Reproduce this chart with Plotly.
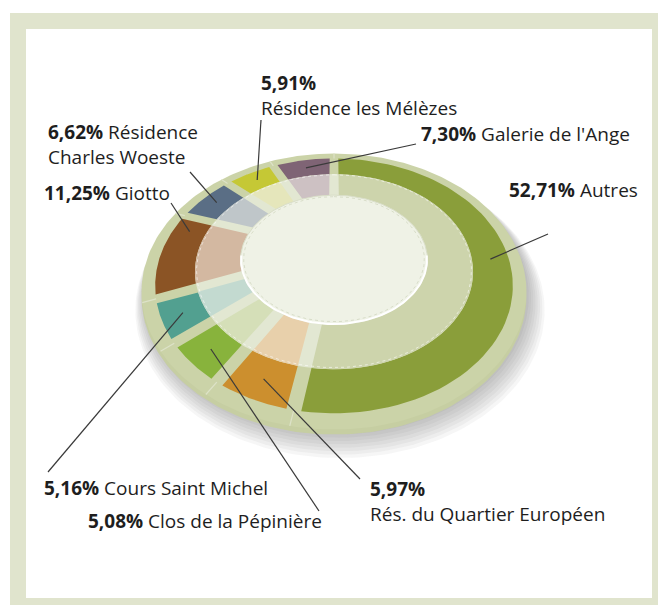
import numpy as np
import plotly.graph_objects as go

# ---------------- data ----------------
labels = ["Autres", "Rés. du Quartier Européen", "Clos de la Pépinière",
          "Cours Saint Michel", "Giotto", "Résidence Charles Woeste",
          "Résidence les Mélèzes", "Galerie de l'Ange"]
values = [52.71, 5.97, 5.08, 5.16, 11.25, 6.62, 5.91, 7.30]
colors_outer = ["#8a9e3a", "#cc8f2e", "#88b33c", "#52a090",
                "#8b5425", "#5a6e85", "#c5c835", "#7f6475"]
colors_inner = ["#cdd4ac", "#e8d0ab", "#d5dfb8", "#c3dad0",
                "#d3b8a1", "#bfc6c9", "#e5e6bb", "#cdc1c3"]

# label layout: text (x = left edge, y = vertical middle), leader end, leader position in slice
label_layout = [
    dict(text="{p} Autres", x=507, y=190, end=(548, 234), frac=0.5),
    dict(text="{p}<br>Rés. du Quartier Européen", x=368, y=501, end=(360, 479), frac=0.5),
    dict(text="{p} Clos de la Pépinière", x=86, y=521, end=(319, 511), frac=0.5),
    dict(text="{p} Cours Saint Michel", x=42, y=488, end=(48, 472), frac=0.5),
    dict(text="{p} Giotto", x=42, y=193, end=(171, 203), frac=0.8),
    dict(text="{p} Résidence<br>Charles Woeste", x=46, y=144, end=(190, 172), frac=0.5),
    dict(text="{p}<br>Résidence les Mélèzes", x=259, y=95, end=(261, 120), frac=0.5),
    dict(text="{p} Galerie de l'Ange", x=419, y=134, end=(416, 144), frac=0.5),
]

# ---------------- geometry (tilted disc in perspective) ----------------
CX, CY, T, K = 334.0, 250.0, 0.684, 0.00164
R_CENTER, R_INNER, R_OUTER, R_RIM = 92.4, 135.6, 171.6, 183.5
GAP = 11.0


def proj(r, th_deg):
    th = np.radians(th_deg)
    X = r * np.sin(th)
    Y = -r * np.cos(th)
    p = 1.0 / (1.0 - K * Y)
    return CX + X * p, CY + T * Y * p


def ellipse(r, n=240):
    a = np.linspace(0, 360, n)
    return proj(r, a)


def sector(r0, r1, a0, a1, gap, n=80):
    d1 = np.degrees(np.arcsin(gap / 2 / r1))
    d0 = np.degrees(np.arcsin(gap / 2 / r0))
    ao = np.linspace(a0 + d1, a1 - d1, n)
    ai = np.linspace(a1 - d0, a0 + d0, n)
    xo, yo = proj(r1, ao)
    xi, yi = proj(r0, ai)
    x = np.concatenate([xo, xi, xo[:1]])
    y = np.concatenate([yo, yi, yo[:1]])
    return x, y


total = sum(values)
angles = []
acc = 0.0
for v in values:
    a0 = acc / total * 360
    acc += v
    a1 = acc / total * 360
    angles.append((a0, a1))

fig = go.Figure()


def fill_trace(x, y, color, line_color=None, line_width=0):
    fig.add_trace(go.Scatter(
        x=x, y=y, mode="lines", fill="toself", fillcolor=color,
        line=dict(color=line_color or color, width=line_width),
        hoverinfo="skip", showlegend=False))


# shadow
for i in range(8):
    x, y = ellipse(R_RIM + 1.5 * i)
    fill_trace(x + 2.5 + 0.5 * i, y + 5 + 1.2 * i, "rgba(70,70,85,0.05)")

# rim (with a little thickness)
x, y = ellipse(R_RIM)
fill_trace(x, y + 5, "#c6cea2")
fill_trace(x, y, "#cbd3a8")

# inner ring underlay (gap colour)
x, y = ellipse(R_INNER)
fill_trace(x, y, "#e2e7d2")

# slices: outer strong colour, inner light tint
for (a0, a1), co, ci in zip(angles, colors_outer, colors_inner):
    x, y = sector(R_INNER, R_OUTER, a0, a1, GAP)
    fill_trace(x, y, co)
    x, y = sector(R_CENTER, R_INNER, a0, a1, GAP)
    fill_trace(x, y, ci)

# thin light seams across the rim
sx, sy = [], []
for a0, a1 in angles:
    xa, ya = proj(np.array([R_OUTER, R_RIM]), np.array([a0, a0]))
    sx += list(xa) + [None]
    sy += list(ya) + [None]
fig.add_trace(go.Scatter(x=sx, y=sy, mode="lines",
                         line=dict(color="#dde2c8", width=1.2),
                         hoverinfo="skip", showlegend=False))

# dotted outline of inner ring
x, y = ellipse(R_INNER - 1.5)
fig.add_trace(go.Scatter(x=x, y=y, mode="lines",
                         line=dict(color="rgba(255,255,255,0.55)", width=1, dash="dot"),
                         hoverinfo="skip", showlegend=False))

# centre disc
x, y = ellipse(R_CENTER)
fill_trace(x, y, "#eff2e6", "#d9dec8", 1)
x, y = ellipse(R_CENTER - 3)
fig.add_trace(go.Scatter(x=x, y=y, mode="lines",
                         line=dict(color="rgba(200,206,180,0.6)", width=1, dash="dot"),
                         hoverinfo="skip", showlegend=False))
a = np.linspace(95, 265, 80)
x, y = proj(R_CENTER - 0.5, a)
fig.add_trace(go.Scatter(x=x, y=y, mode="lines",
                         line=dict(color="#ffffff", width=2),
                         hoverinfo="skip", showlegend=False))

# leader lines
lx, ly = [], []
r_mid = (R_INNER + R_OUTER) / 2
for (a0, a1), lay in zip(angles, label_layout):
    am = a0 + (a1 - a0) * lay["frac"]
    x0, y0 = proj(r_mid, am)
    lx += [float(x0), lay["end"][0], None]
    ly += [float(y0), lay["end"][1], None]
fig.add_trace(go.Scatter(x=lx, y=ly, mode="lines",
                         line=dict(color="#3a3a3a", width=1.2),
                         hoverinfo="skip", showlegend=False))

# labels
annotations = []
for v, lay in zip(values, label_layout):
    pct = "<b>" + f"{v:.2f}".replace(".", ",") + "%</b>"
    annotations.append(dict(
        x=lay["x"], y=lay["y"], xref="x", yref="y", text=lay["text"].format(p=pct),
        showarrow=False, xanchor="left", yanchor="middle", align="left",
        font=dict(family="Open Sans", size=19, color="#1e1e1e")))

fig.update_layout(
    width=658, height=605,
    margin=dict(l=0, r=0, t=0, b=0),
    paper_bgcolor="white", plot_bgcolor="white",
    xaxis=dict(range=[0, 658], visible=False, fixedrange=True),
    yaxis=dict(range=[605, 0], visible=False, fixedrange=True),
    annotations=annotations,
    shapes=[
        dict(type="rect", xref="x", yref="y", x0=10, y0=13, x1=658, y1=605,
             fillcolor="#e0e4cd", line=dict(width=0), layer="below"),
        dict(type="rect", xref="x", yref="y", x0=26, y0=29, x1=652, y1=598,
             fillcolor="white", line=dict(width=0), layer="below"),
    ],
)

fig.write_html("out.html", config={"displayModeBar": False},
               post_script="document.body.style.margin='0';document.body.style.overflow='hidden';")
